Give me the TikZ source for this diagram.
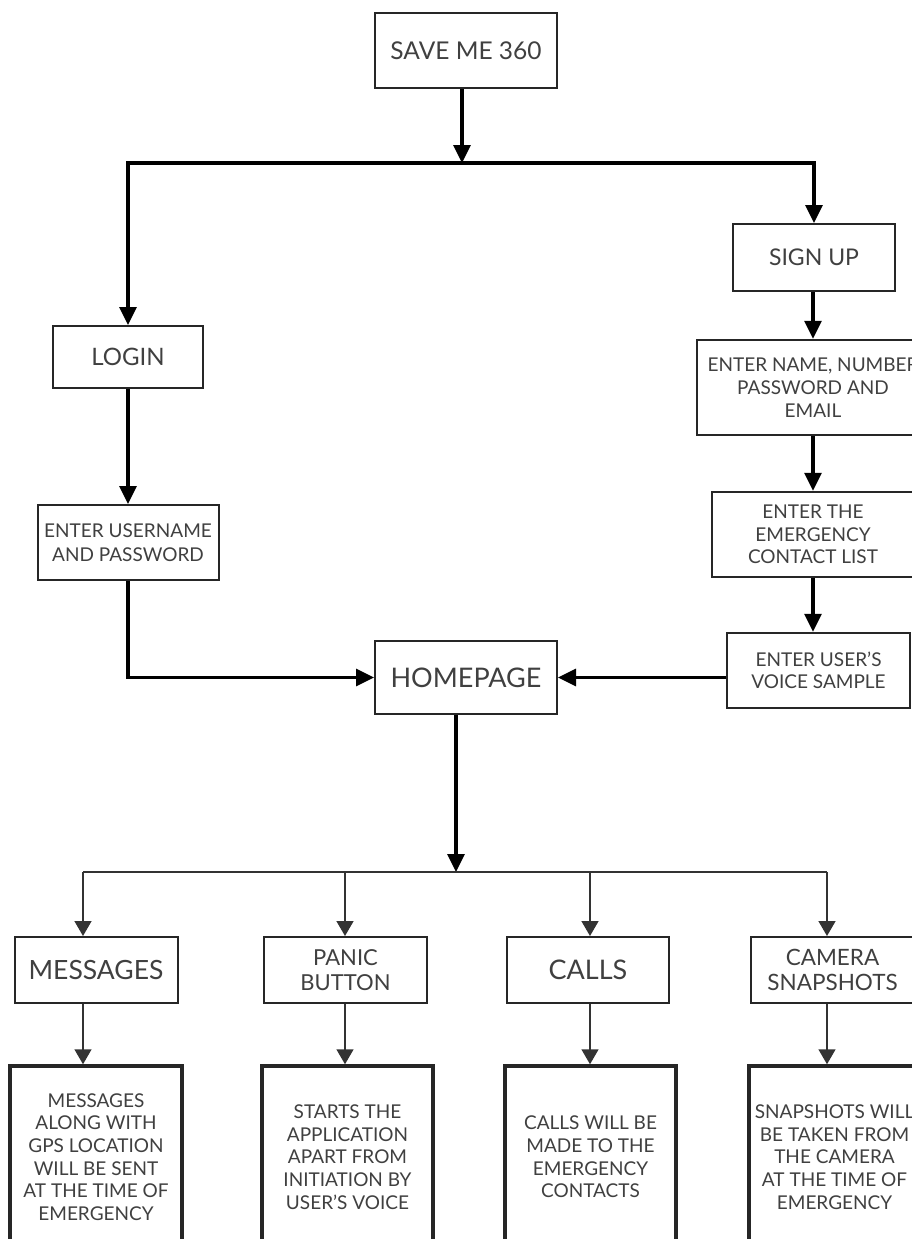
\documentclass[tikz,border=0pt]{standalone}
\usepackage{fontspec}
\setmainfont{Lato}
\usetikzlibrary{arrows.meta}
\begin{document}
\begin{tikzpicture}[x=1pt,y=-1pt,
  box/.style={draw=black!85, line width=2pt, fill=white, inner sep=0pt, align=center, text=black!75},
  descbox/.style={box, line width=3.5pt},
  main/.style={line width=3.2pt, draw=black},
  thinline/.style={line width=1.5pt, draw=black!80},
  arr/.style={-{Triangle[length=18pt,width=17pt]}},
  sarr/.style={-{Triangle[length=15pt,width=17pt]}},
  lines/.style={font=\fontsize{19}{22.6}\selectfont}
]
\useasboundingbox (0,0) rectangle (912,1239);

% top
\node[box, minimum width=182pt, minimum height=75pt, font=\fontsize{24.5}{28}\selectfont] (save) at (466,50.5) {SAVE ME 360};
\coordinate (j1) at (462,163);

\node[box, minimum width=150pt, minimum height=62pt, font=\fontsize{24}{28}\selectfont] (login) at (128,357) {LOGIN};
\node[box, minimum width=162pt, minimum height=67pt, font=\fontsize{23}{28}\selectfont] (signup) at (814,257.5) {SIGN UP};

\node[box, minimum width=181pt, minimum height=75pt, font=\fontsize{19}{24}\selectfont] (user) at (128,542.5) {ENTER USERNAME\\AND PASSWORD};

\node[box, line width=2.5pt, minimum width=232pt, minimum height=95pt, font=\fontsize{19}{23}\selectfont] (name) at (813,387.5) {ENTER NAME, NUMBER\\PASSWORD AND\\EMAIL};
\node[box, line width=2.5pt, minimum width=202pt, minimum height=85pt, font=\fontsize{19}{22.5}\selectfont] (emerg) at (813,534.5) {ENTER THE\\EMERGENCY\\CONTACT LIST};
\node[box, line width=2.5pt, minimum width=183pt, minimum height=75pt, font=\fontsize{19}{21.5}\selectfont] (voice) at (818.5,670.5) {ENTER USER'S\\VOICE SAMPLE};

\node[box, minimum width=182pt, minimum height=73pt, font=\fontsize{27}{30}\selectfont] (home) at (466,677.5) {HOMEPAGE};
\coordinate (j2) at (456,872);

% bottom row
\coordinate (c1) at (83,872);
\coordinate (c2) at (345,872);
\coordinate (c3) at (590,872);
\coordinate (c4) at (827,872);

\node[box, minimum width=163pt, minimum height=66pt, font=\fontsize{26.5}{29}\selectfont] (msg) at (96,970) {MESSAGES};
\node[box, minimum width=163pt, minimum height=66pt, font=\fontsize{22}{25}\selectfont] (panic) at (345.5,970) {PANIC\\BUTTON};
\node[box, minimum width=162pt, minimum height=66pt, font=\fontsize{27}{30}\selectfont] (calls) at (588,970) {CALLS};
\node[box, minimum width=163pt, minimum height=66pt, font=\fontsize{22.5}{25}\selectfont] (cam) at (832.5,970) {CAMERA\\SNAPSHOTS};

\node[descbox, lines, minimum width=172pt, minimum height=182pt] (msgd) at (96,1157) {MESSAGES\\ALONG WITH\\GPS LOCATION\\WILL BE SENT\\AT THE TIME OF\\EMERGENCY};
\node[descbox, lines, minimum width=171pt, minimum height=182pt] (panicd) at (347.5,1157) {STARTS THE\\APPLICATION\\APART FROM\\INITIATION BY\\USER'S VOICE};
\node[descbox, lines, minimum width=171pt, minimum height=182pt] (callsd) at (590.5,1157) {CALLS WILL BE\\MADE TO THE\\EMERGENCY\\CONTACTS};
\node[descbox, lines, minimum width=171pt, minimum height=182pt] (camd) at (834.5,1157) {SNAPSHOTS WILL\\BE TAKEN FROM\\THE CAMERA\\AT THE TIME OF\\EMERGENCY};

% connectors top
\draw[main, arr] (save.south -| j1) -- (j1);
\draw[main, arr] (j1) -| (login.north);
\draw[main, arr] (j1) -| (signup.north);
\draw[main, arr] (login.south) -- (user.north);
\draw[main, arr] (user.south) |- (home.west);
\draw[main, arr] (signup.south -| name.north) -- (name.north);
\draw[main, arr] (name.south) -- (emerg.north);
\draw[main, arr] (emerg.south) -- (emerg.south |- voice.north);
\draw[main, arr] (home.east -| voice.west) -- (home.east);
\draw[main, arr] (j2 |- home.south) -- (j2);

% bottom connectors
\draw[thinline] (c1) -- (c4);
\foreach \c/\t/\d in {c1/msg/msgd, c2/panic/panicd, c3/calls/callsd, c4/cam/camd}{
  \draw[thinline, sarr] (\c) -- (\c |- \t.north);
  \draw[thinline, sarr] (\c |- \t.south) -- (\c |- \d.north);
}
\end{tikzpicture}
\end{document}
